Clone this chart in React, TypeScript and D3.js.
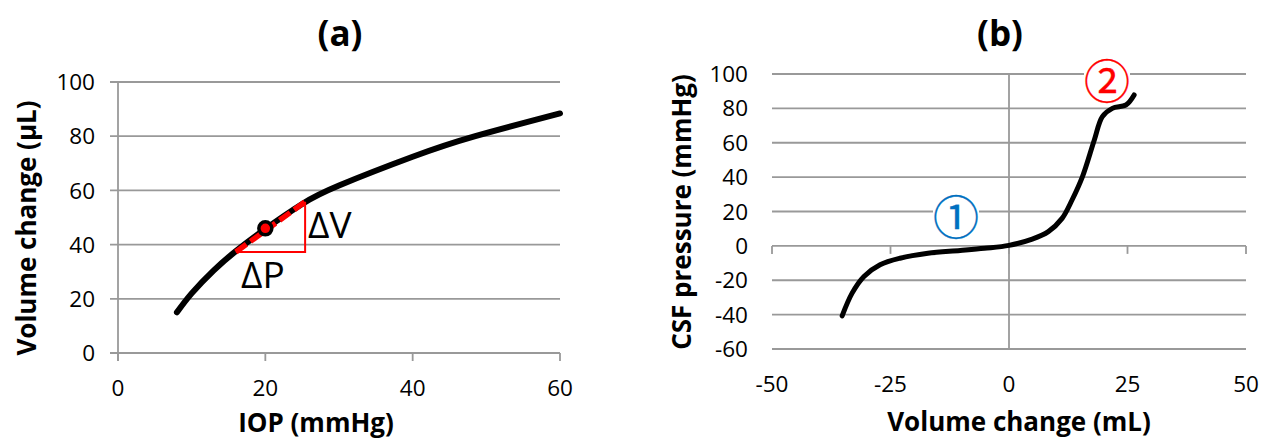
import { useEffect, useRef } from "react";
import * as d3 from "d3";

const width = 1267;
const height = 446;

// panel (a): IOP vs volume change
const iop = [8, 10, 13, 16, 20, 25, 30, 40, 48.5, 60];
const volA = [15, 22, 30.5, 37.6, 45.8, 55, 61.8, 72.4, 80, 88.4];
const tangentP = [16, 25.4];
const tangentV = [37.3, 55.8];
const pointA = [20, 46];
const xTicksA = [0, 20, 40, 60];
const yTicksA = [0, 20, 40, 60, 80, 100];

// panel (b): volume change vs CSF pressure
const volB = [-35.2, -33.1, -30.6, -27.2, -23, -17.1, -10.3, -5.2, 0, 4.9, 8.3, 11.2, 13.3, 15.5, 18, 19.7, 21.8, 24.7, 26.4];
const csf = [-40.7, -27.5, -17.8, -11, -7.2, -4.3, -2.7, -1.4, 0.3, 3.9, 8.3, 16, 26.7, 40.3, 61.6, 75.2, 80, 82, 87.8];
const xTicksB = [-50, -25, 0, 25, 50];
const yTicksB = [-60, -40, -20, 0, 20, 40, 60, 80, 100];

const font = "'Open Sans', sans-serif";
const grid = "#999999";

const App = () => {
  const ref = useRef<SVGSVGElement>(null);

  useEffect(() => {
    const svg = d3.select(ref.current);
    svg.selectAll("*").remove();

    // ---------- panel (a)
    const xa = d3.scaleLinear().domain([0, 60]).range([118, 560]);
    const ya = d3.scaleLinear().domain([0, 100]).range([353, 82]);
    const a = svg.append("g");

    a.selectAll(".grid").data(yTicksA.filter(d => d !== 0)).enter().append("line")
      .attr("x1", xa(0) - 8).attr("x2", xa(60))
      .attr("y1", d => ya(d)).attr("y2", d => ya(d))
      .attr("stroke", grid).attr("stroke-width", 1.8);
    // axes
    a.append("line").attr("x1", xa(0) - 8).attr("x2", xa(60)).attr("y1", ya(0)).attr("y2", ya(0))
      .attr("stroke", grid).attr("stroke-width", 1.8);
    a.append("line").attr("x1", xa(0)).attr("x2", xa(0)).attr("y1", ya(100)).attr("y2", ya(0) + 8)
      .attr("stroke", grid).attr("stroke-width", 1.8);
    a.selectAll(".xt").data(xTicksA).enter().append("line")
      .attr("x1", d => xa(d)).attr("x2", d => xa(d)).attr("y1", ya(0)).attr("y2", ya(0) + 8)
      .attr("stroke", grid).attr("stroke-width", 1.8);

    a.selectAll(".yl").data(yTicksA).enter().append("text")
      .attr("x", 95).attr("y", d => ya(d)).attr("dy", "0.36em")
      .attr("text-anchor", "end").attr("font-family", font).attr("font-size", 22.5).attr("fill", "#000")
      .text(d => d);
    a.selectAll(".xl").data(xTicksA).enter().append("text")
      .attr("x", d => xa(d)).attr("y", 388).attr("dy", "0.36em")
      .attr("text-anchor", "middle").attr("font-family", font).attr("font-size", 22.5).attr("fill", "#000")
      .text(d => d);

    const lineA = d3.line<number>().x((d, i) => xa(iop[i])).y(d => ya(d)).curve(d3.curveNatural);
    a.append("path").attr("d", lineA(volA)).attr("fill", "none").attr("stroke", "#000")
      .attr("stroke-width", 6).attr("stroke-linecap", "round");

    // slope triangle
    a.append("path")
      .attr("d", `M${xa(tangentP[0])},${ya(tangentV[0])}H${xa(tangentP[1])}V${ya(tangentV[1])}`)
      .attr("fill", "none").attr("stroke", "#ff0000").attr("stroke-width", 2);
    a.append("line")
      .attr("x1", xa(tangentP[0])).attr("y1", ya(tangentV[0]))
      .attr("x2", xa(tangentP[1])).attr("y2", ya(tangentV[1]))
      .attr("stroke", "#ff0000").attr("stroke-width", 5.5).attr("stroke-dasharray", "13,5");
    a.append("circle").attr("cx", xa(pointA[0])).attr("cy", ya(pointA[1])).attr("r", 6.5)
      .attr("fill", "#ff0000").attr("stroke", "#000").attr("stroke-width", 3.5);

    a.append("text").attr("x", 308).attr("y", 238).attr("font-family", font).attr("font-size", 37)
      .attr("fill", "#000").text("ΔV");
    a.append("text").attr("x", 241).attr("y", 288).attr("font-family", font).attr("font-size", 37)
      .attr("fill", "#000").text("ΔP");

    a.append("text").attr("x", 340).attr("y", 33).attr("dy", "0.36em").attr("text-anchor", "middle")
      .attr("font-family", font).attr("font-weight", "bold").attr("font-size", 35).text("(a)");
    a.append("text").attr("x", 316).attr("y", 423).attr("dy", "0.36em").attr("text-anchor", "middle")
      .attr("font-family", font).attr("font-weight", "bold").attr("font-size", 26).text("IOP (mmHg)");
    a.append("text").attr("transform", "translate(27,228) rotate(-90)").attr("dy", "0.36em")
      .attr("text-anchor", "middle").attr("font-family", font).attr("font-weight", "bold")
      .attr("font-size", 26).text("Volume change (μL)");

    // ---------- panel (b)
    const xb = d3.scaleLinear().domain([-50, 50]).range([772, 1246]);
    const yb = d3.scaleLinear().domain([-60, 100]).range([349, 74]);
    const b = svg.append("g");

    b.selectAll(".grid").data(yTicksB).enter().append("line")
      .attr("x1", xb(-50)).attr("x2", xb(50))
      .attr("y1", d => yb(d)).attr("y2", d => yb(d))
      .attr("stroke", grid).attr("stroke-width", 1.8);
    b.append("line").attr("x1", xb(0)).attr("x2", xb(0)).attr("y1", yb(100)).attr("y2", yb(-60))
      .attr("stroke", grid).attr("stroke-width", 1.8);
    b.selectAll(".xt").data(xTicksB).enter().append("line")
      .attr("x1", d => xb(d)).attr("x2", d => xb(d)).attr("y1", yb(0)).attr("y2", yb(0) + 8)
      .attr("stroke", grid).attr("stroke-width", 1.8);

    b.selectAll(".yl").data(yTicksB).enter().append("text")
      .attr("x", 748).attr("y", d => yb(d)).attr("dy", "0.36em")
      .attr("text-anchor", "end").attr("font-family", font).attr("font-size", 22.5).attr("fill", "#000")
      .text(d => d);
    b.selectAll(".xl").data(xTicksB).enter().append("text")
      .attr("x", d => xb(d)).attr("y", 384).attr("dy", "0.36em")
      .attr("text-anchor", "middle").attr("font-family", font).attr("font-size", 22.5).attr("fill", "#000")
      .text(d => d);

    const lineB = d3.line<number>().x((d, i) => xb(volB[i])).y(d => yb(d)).curve(d3.curveCatmullRom);
    b.append("path").attr("d", lineB(csf)).attr("fill", "none").attr("stroke", "#000")
      .attr("stroke-width", 5).attr("stroke-linecap", "round");

    const marks = [
      { t: "①", x: 956, y: 217, c: "#0070c0" },
      { t: "②", x: 1107, y: 81, c: "#ff0000" },
    ];
    marks.forEach(m => {
      b.append("rect").attr("x", m.x - 23).attr("y", m.y - 10).attr("width", 46).attr("height", 20)
        .attr("fill", "#fff");
      b.append("text").attr("x", m.x).attr("y", m.y).attr("dy", "0.36em").attr("text-anchor", "middle")
        .attr("font-family", "'Noto Sans CJK JP', sans-serif").attr("font-size", 46)
        .attr("fill", m.c).attr("stroke", m.c).attr("stroke-width", 0.3).text(m.t);
    });

    b.append("text").attr("x", 1000).attr("y", 33).attr("dy", "0.36em").attr("text-anchor", "middle")
      .attr("font-family", font).attr("font-weight", "bold").attr("font-size", 35).text("(b)");
    b.append("text").attr("x", 1019).attr("y", 422).attr("dy", "0.36em").attr("text-anchor", "middle")
      .attr("font-family", font).attr("font-weight", "bold").attr("font-size", 26).text("Volume change (mL)");
    b.append("text").attr("transform", "translate(682,212) rotate(-90)").attr("dy", "0.36em")
      .attr("text-anchor", "middle").attr("font-family", font).attr("font-weight", "bold")
      .attr("font-size", 26).text("CSF pressure (mmHg)");
  }, []);

  return (
    <svg ref={ref} width={width} height={height}
      style={{ position: "absolute", left: 0, top: 0, background: "#fff" }}></svg>
  );
};

export default App;
